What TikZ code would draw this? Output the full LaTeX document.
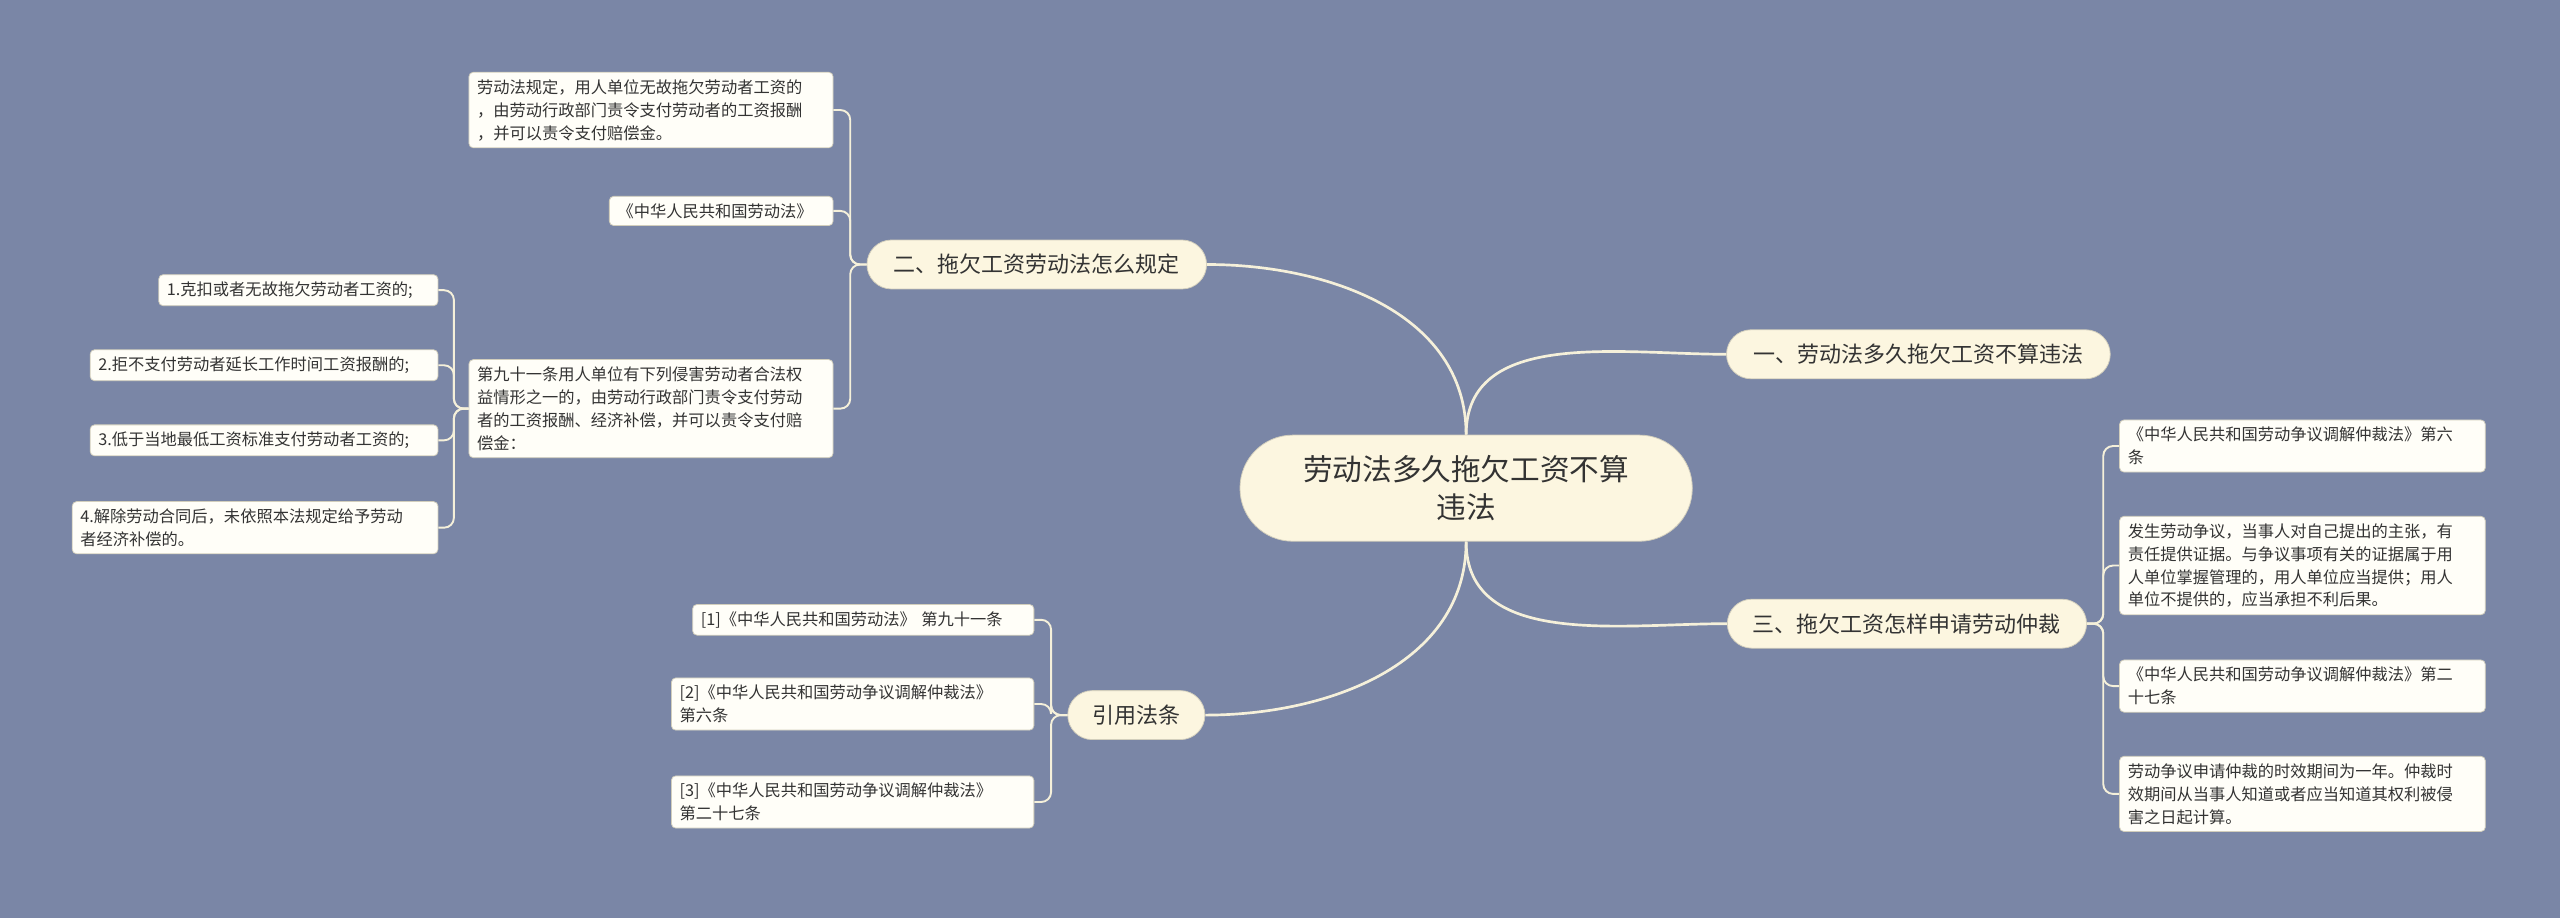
\documentclass[tikz,border=0pt]{standalone}
\usepackage{fontspec}
\setmainfont{Noto Sans CJK SC}
\definecolor{bg}{HTML}{7A86A6}
\definecolor{brf}{HTML}{FCF6E0}
\definecolor{ln}{HTML}{F5F0DA}
\definecolor{lff}{HTML}{FFFEF8}
\definecolor{lfb}{HTML}{D2CEBC}
\definecolor{txt}{HTML}{333333}
\begin{document}
\begin{tikzpicture}[x=0.03cm,y=-0.03cm,
  leaf/.style={draw=lfb,fill=lff,rounded corners=0.08cm,align=left,font=\fontsize{8.5}{12}\selectfont,inner xsep=0.15cm,inner ysep=0.13cm,text=txt,anchor=north west},
  branch/.style={fill=brf,draw=lfb,rounded corners=0.45cm,font=\fontsize{11.5}{14}\selectfont,minimum height=0.9cm,text=txt},
  conn/.style={draw=ln,line width=1.4pt},
  lconn/.style={draw=ln,line width=1pt,rounded corners=0.18cm}]
\fill[bg] (0,0) rectangle (1568,562);
\node[fill=brf,draw=lfb,rounded corners=0.97cm,minimum width=8.31cm,minimum height=1.95cm,align=center,font=\fontsize{15.5}{20}\selectfont,text=txt] (c) at (898,299) {劳动法多久拖欠工资不算\\违法};
\node[branch,minimum width=7.05cm] (b1) at (1175,217) {一、劳动法多久拖欠工资不算违法};
\node[branch,minimum width=6.6cm] (b3) at (1168,382) {三、拖欠工资怎样申请劳动仲裁};
\node[branch,minimum width=6.24cm] (b2) at (635,162) {二、拖欠工资劳动法怎么规定};
\node[branch,minimum width=2.52cm] (b4) at (696,438) {引用法条};
\draw[conn] (c.north) to[out=90,in=0] (b2.east);
\draw[conn] (c.north) to[out=90,in=180] (b1.west);
\draw[conn] (c.south) to[out=-90,in=180] (b3.west);
\draw[conn] (c.south) to[out=-90,in=0] (b4.east);
% branch 2 leaves
\node[leaf,text width=6.39cm] (l1) at (287,44) {劳动法规定，用人单位无故拖欠劳动者工资的\\，由劳动行政部门责令支付劳动者的工资报酬\\，并可以责令支付赔偿金。};
\node[leaf,text width=3.81cm] (l2) at (373,120) {《中华人民共和国劳动法》};
\node[leaf,text width=6.39cm] (l3) at (287,220) {第九十一条用人单位有下列侵害劳动者合法权\\益情形之一的，由劳动行政部门责令支付劳动\\者的工资报酬、经济补偿，并可以责令支付赔\\偿金：};
\node[leaf,text width=4.83cm] (s1) at (97,168) {1.克扣或者无故拖欠劳动者工资的;};
\node[leaf,text width=6.09cm] (s2) at (55,214) {2.拒不支付劳动者延长工作时间工资报酬的;};
\node[leaf,text width=6.09cm] (s3) at (55,260) {3.低于当地最低工资标准支付劳动者工资的;};
\node[leaf,text width=6.42cm] (s4) at (44,307) {4.解除劳动合同后，未依照本法规定给予劳动\\者经济补偿的。};
\foreach \n in {l1,l2,l3} \draw[lconn] (b2.west) -- ++(-10,0) |- (\n.east);
\foreach \n in {s1,s2,s3,s4} \draw[lconn] (l3.west) -- ++(-9,0) |- (\n.east);
% branch 3 leaves
\node[leaf,text width=6.42cm] (r1) at (1298,257) {《中华人民共和国劳动争议调解仲裁法》第六\\条};
\node[leaf,text width=6.42cm] (r2) at (1298,316) {发生劳动争议，当事人对自己提出的主张，有\\责任提供证据。与争议事项有关的证据属于用\\人单位掌握管理的，用人单位应当提供；用人\\单位不提供的，应当承担不利后果。};
\node[leaf,text width=6.42cm] (r3) at (1298,404) {《中华人民共和国劳动争议调解仲裁法》第二\\十七条};
\node[leaf,text width=6.42cm] (r4) at (1298,463) {劳动争议申请仲裁的时效期间为一年。仲裁时\\效期间从当事人知道或者应当知道其权利被侵\\害之日起计算。};
\foreach \n in {r1,r2,r3,r4} \draw[lconn] (b3.east) -- ++(10,0) |- (\n.west);
% refs
\node[leaf,text width=5.97cm] (f1) at (424,370) {[1]《中华人民共和国劳动法》 第九十一条};
\node[leaf,text width=6.36cm] (f2) at (411,415) {[2]《中华人民共和国劳动争议调解仲裁法》\\第六条};
\node[leaf,text width=6.36cm] (f3) at (411,475) {[3]《中华人民共和国劳动争议调解仲裁法》\\第二十七条};
\foreach \n in {f1,f2,f3} \draw[lconn] (b4.west) -- ++(-10,0) |- (\n.east);
\end{tikzpicture}
\end{document}
